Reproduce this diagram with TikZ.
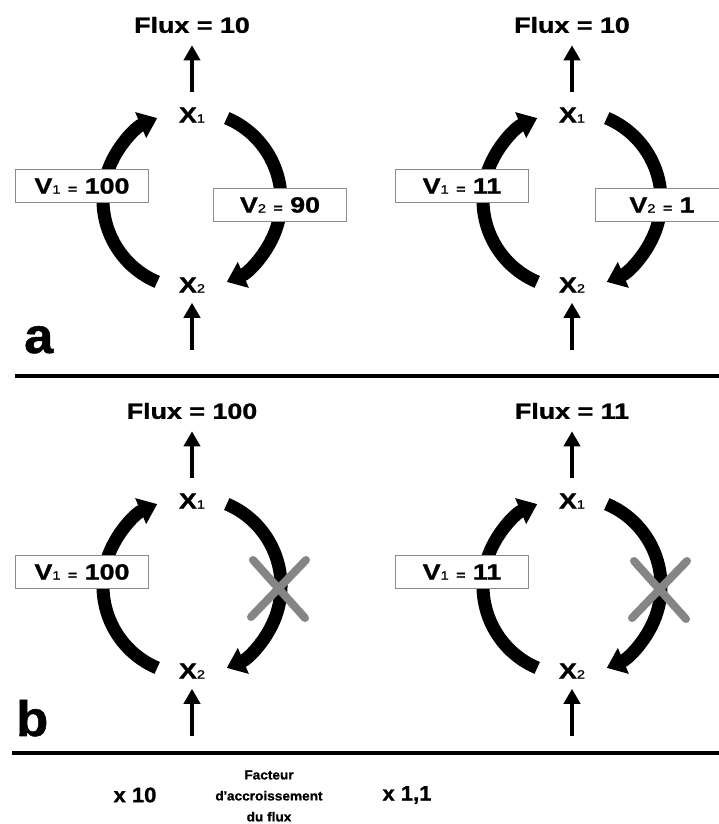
\documentclass[tikz,border=0pt]{standalone}
\usepackage{fontspec}
\setmainfont{Liberation Sans}
\newfontfamily\wf[FakeStretch=1.22,FakeBold=1.2]{Liberation Sans}
\newfontfamily\ft[FakeStretch=1.05,FakeBold=1.0]{Liberation Sans}
\usetikzlibrary{arrows.meta}
\newcommand\sbx[1]{{\fontsize{12}{12}\selectfont\mdseries #1}}
\newcommand\smeq{{\fontsize{13}{13}\selectfont =}}
\tikzset{
  lbl/.style={font={\wf\bfseries\fontsize{22}{24}\selectfont}, inner sep=0pt},
  vbox/.style={lbl, draw=black!45, line width=1.4pt, fill=white, minimum width=133pt, minimum height=33pt},
  uparr/.style={line width=4.5pt, -{Triangle[width=16pt,length=15pt]}},
  arcarr/.style={line width=13pt, -{Triangle[width=27pt,length=18pt]}},
  crossline/.style={line width=8pt, black!48, line cap=round},
  sepline/.style={line width=4pt},
  foot/.style={font={\ft\bfseries\fontsize{21}{24}\selectfont}, inner sep=0pt},
  small/.style={font={\ft\bfseries\fontsize{13}{21}\selectfont}, align=center, inner sep=0pt},
  panelletter/.style={font={\ft\bfseries\fontsize{50}{50}\selectfont}, inner sep=0pt, anchor=base west}
}
\newcommand\panel[5]{%
  \begin{scope}[shift={(#2,#3)}]
    \coordinate (#1c) at (0,0);
    \node[lbl] (#1x1) at (0,85) {X\sbx{1}};
    \node[lbl] (#1x2) at (0,-85) {X\sbx{2}};
    \node[lbl] (#1f) at (0,175) {Flux = #4};
    \coordinate (#1in) at (0,-150);
    \draw[uparr, shorten <=15pt, shorten >=12pt] (#1x1.north) -- (#1f.south);
    \draw[uparr, shorten >=10pt] (#1in) -- (#1x2.south);
    \draw[arcarr] ([shift={(247:89pt)}]#1c) arc[start angle=247, end angle=113, radius=89pt];
    \draw[arcarr] ([shift={(67:89pt)}]#1c) arc[start angle=67, end angle=-67, radius=89pt];
    \node[vbox] (#1v1) at (-110,14) {V\sbx{1} \smeq{} #5};
  \end{scope}}
\begin{document}
\begin{tikzpicture}[x=1pt,y=1pt]
  \useasboundingbox (0,0) rectangle (719,824);
  \clip (0,0) rectangle (719,824);
  \fill[white] (0,0) rectangle (719,824);
  % panel a
  \panel{al}{192}{624}{10}{100}
  \panel{ar}{572}{624}{10}{11}
  \node[vbox] (alv2) at (280,619) {V\sbx{2} \smeq{} 90};
  \node[vbox] (arv2) at (662,619) {V\sbx{2} \smeq{} 1};
  \node[panelletter] (la) at (24,471) {a};
  % separator
  \coordinate (s1a) at (15,448);
  \coordinate (s1b) at (719,448);
  \draw[sepline] (s1a) -- (s1b);
  % panel b
  \panel{bl}{192}{238}{100}{100}
  \panel{br}{572}{238}{11}{11}
  \coordinate (kl) at (279,236);
  \coordinate (kr) at (660,235);
  \draw[crossline] ([shift={(-26,28)}]kl) -- ([shift={(26,-30)}]kl);
  \draw[crossline] ([shift={(27,28)}]kl) -- ([shift={(-28,-29)}]kl);
  \draw[crossline] ([shift={(-26,28)}]kr) -- ([shift={(26,-30)}]kr);
  \draw[crossline] ([shift={(27,28)}]kr) -- ([shift={(-28,-29)}]kr);
  \node[panelletter] (lb) at (16,88) {b};
  % separator 2
  \coordinate (s2a) at (12,71);
  \coordinate (s2b) at (719,71);
  \draw[sepline] (s2a) -- (s2b);
  % footer
  \node[foot] (f1) at (135,29) {x 10};
  \node[foot] (f2) at (407,29) {x 1,1};
  \node[small] (f3) at (269,28) {Facteur\\d'accroissement\\du flux};
\end{tikzpicture}
\end{document}
